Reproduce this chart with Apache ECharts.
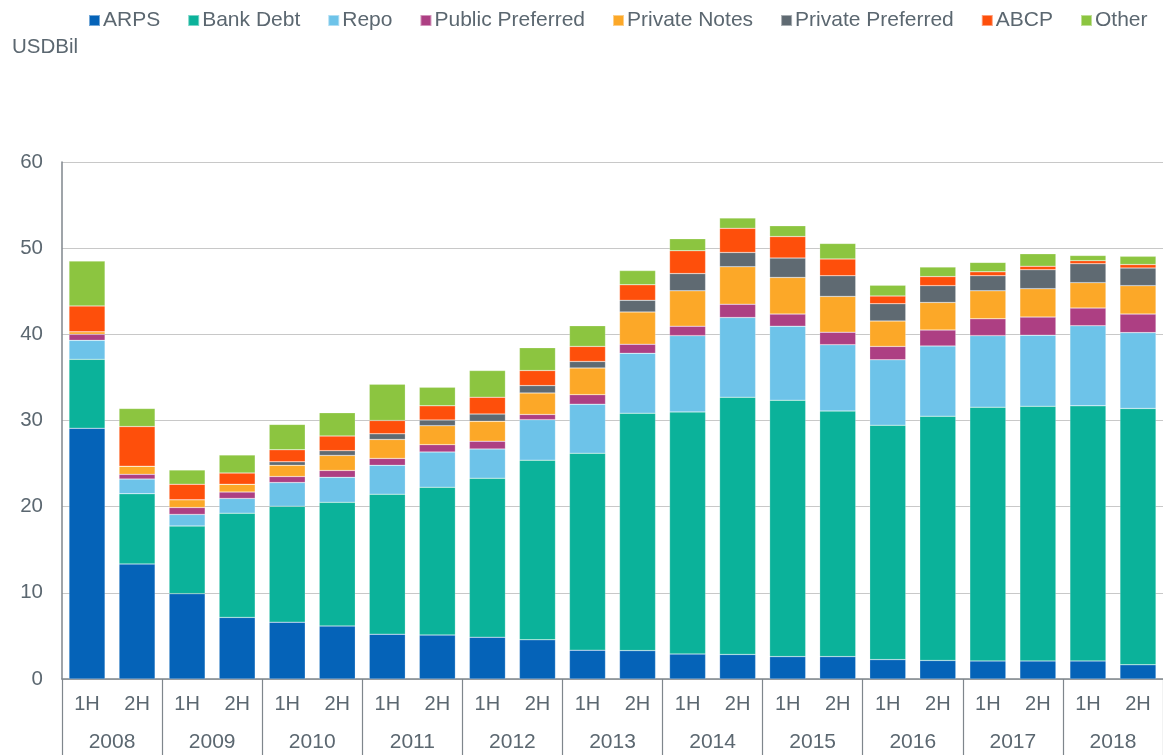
<!DOCTYPE html>
<html>
<head>
<meta charset="utf-8">
<script src="https://cdn.jsdelivr.net/npm/echarts@6/dist/echarts.min.js"></script>
<style>
  html, body { margin: 0; padding: 0; background: #fff; }
  #chart { width: 1163px; height: 755px; }
</style>
</head>
<body>
<div id="chart"></div>
<script>
// halves and years
var halves = ['1H','2H','1H','2H','1H','2H','1H','2H','1H','2H','1H','2H','1H','2H','1H','2H','1H','2H','1H','2H','1H','2H'];
var years = ['2008','2009','2010','2011','2012','2013','2014','2015','2016','2017','2018'];

// USD bil
var arps        = [29.1, 13.35, 9.9, 7.15, 6.6, 6.15, 5.2, 5.1, 4.85, 4.55, 3.35, 3.3, 2.9, 2.85, 2.6, 2.6, 2.25, 2.15, 2.1, 2.1, 2.1, 1.65];
var bankDebt    = [8.0, 8.15, 7.85, 12.1, 13.45, 14.35, 16.25, 17.15, 18.45, 20.85, 22.85, 27.55, 28.1, 29.85, 29.75, 28.5, 27.2, 28.35, 29.45, 29.55, 29.6, 29.75];
var repo        = [2.2, 1.7, 1.35, 1.7, 2.75, 2.9, 3.35, 4.1, 3.4, 4.7, 5.7, 6.95, 8.85, 9.25, 8.6, 7.7, 7.6, 8.15, 8.3, 8.25, 9.3, 8.8];
var publicPref  = [0.7, 0.55, 0.8, 0.75, 0.7, 0.8, 0.8, 0.85, 0.9, 0.6, 1.1, 1.05, 1.1, 1.55, 1.4, 1.45, 1.55, 1.85, 1.95, 2.1, 2.05, 2.15];
var privNotes   = [0.3, 0.95, 0.9, 0.9, 1.3, 1.75, 2.2, 2.2, 2.3, 2.5, 3.1, 3.75, 4.1, 4.35, 4.25, 4.15, 2.95, 3.2, 3.25, 3.3, 2.95, 3.3];
var privPref    = [0, 0, 0, 0, 0.4, 0.55, 0.65, 0.65, 0.85, 0.85, 0.75, 1.35, 2.0, 1.65, 2.25, 2.4, 2.0, 1.95, 1.75, 2.2, 2.2, 2.05];
var abcp        = [3.0, 4.6, 1.8, 1.3, 1.4, 1.7, 1.55, 1.65, 1.95, 1.75, 1.75, 1.8, 2.65, 2.8, 2.5, 1.95, 0.9, 1.05, 0.45, 0.4, 0.35, 0.4];
var other       = [5.2, 2.1, 1.65, 2.1, 2.95, 2.7, 4.2, 2.15, 3.1, 2.65, 2.4, 1.65, 1.4, 1.2, 1.25, 1.8, 1.25, 1.1, 1.1, 1.45, 0.6, 0.95];

var seriesNames = ['ARPS','Bank Debt','Repo','Public Preferred','Private Notes','Private Preferred','ABCP','Other'];
var seriesData = [arps, bankDebt, repo, publicPref, privNotes, privPref, abcp, other];
var colors = ['#0563b8','#0bb29a','#6dc3e9','#ad3f83','#fca828','#5f6a72','#fe4f0b','#8cc540'];

var txt = '#5b6770';
var font = 'Liberation Sans, Arial, sans-serif';

var series = [];
for (var i = 0; i < seriesNames.length; i++) {
  series.push({
    name: seriesNames[i],
    type: 'bar',
    stack: 'total',
    barCategoryGap: '28%',
    xAxisIndex: 0,
    itemStyle: { color: colors[i], borderColor: 'rgba(255,255,255,0.45)', borderWidth: 0.5 },
    data: seriesData[i]
  });
}

var myChart = echarts.init(document.getElementById('chart'));
var option = {
  color: colors,
  animation: false,
  textStyle: { fontFamily: font },
  legend: {
    left: 83,
    top: 5,
    itemWidth: 11,
    itemHeight: 11,
    itemGap: 27,
    icon: 'rect',
    textStyle: { color: txt, fontSize: 21, fontFamily: font, padding: [0, 0, 0, -2] },
    data: seriesNames
  },
  graphic: [{
    type: 'text',
    left: 12,
    top: 37,
    style: { text: 'USDBil', fill: txt, fontSize: 20.5, fontFamily: font }
  }],
  grid: {
    left: 62,
    right: 0,
    top: 162,
    bottom: 76,
    containLabel: false
  },
  xAxis: [
    {
      type: 'category',
      data: halves,
      axisLine: { show: true, lineStyle: { color: '#7f868c', width: 1.5 } },
      axisTick: { show: false },
      axisLabel: { color: txt, fontSize: 20, margin: 15, interval: 0, fontFamily: font }
    },
    {
      type: 'category',
      data: years,
      position: 'bottom',
      axisLine: { show: false },
      axisTick: { show: true, length: 80, lineStyle: { color: '#7f868c', width: 1.2 } },
      axisLabel: { color: txt, fontSize: 21, margin: 53, interval: 0, fontFamily: font }
    }
  ],
  yAxis: {
    type: 'value',
    min: 0,
    max: 60,
    interval: 10,
    axisLine: { show: true, lineStyle: { color: '#7f868c', width: 1.5 } },
    axisTick: { show: false },
    axisLabel: { color: txt, fontSize: 20.5, margin: 19, fontFamily: font },
    splitLine: { lineStyle: { color: '#c8c8c8', width: 1.2 } }
  },
  series: series
};
myChart.setOption(option);
</script>
</body>
</html>
